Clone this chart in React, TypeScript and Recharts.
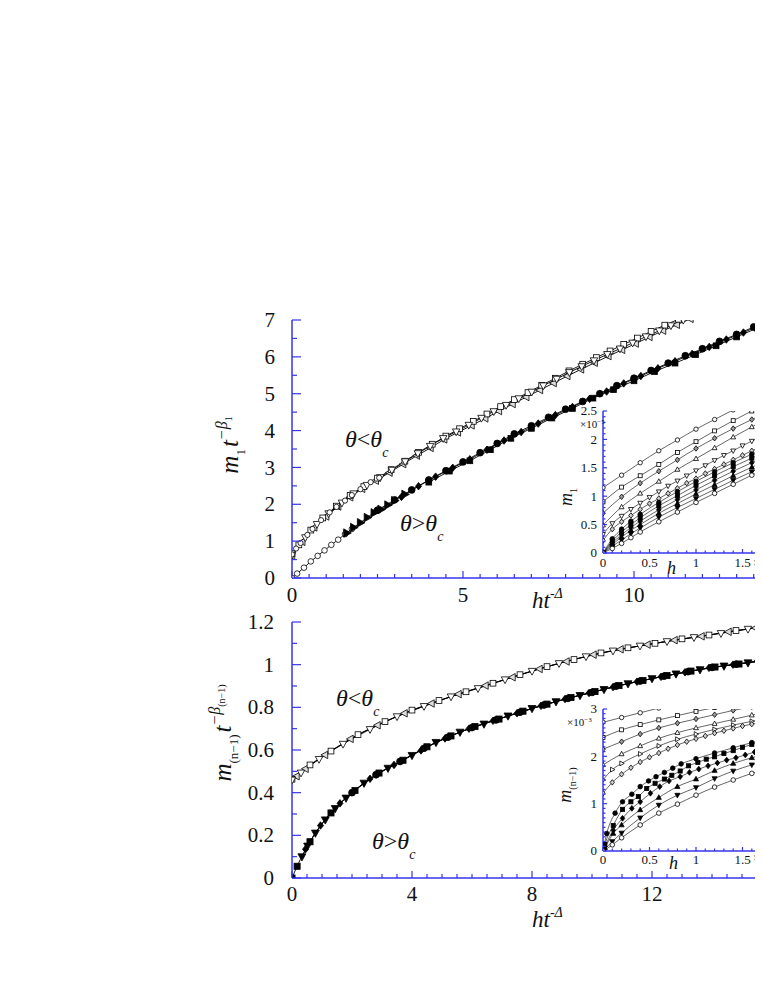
import React from 'react';
import { ComposedChart, Line, XAxis, YAxis } from 'recharts';

const BLUE = '#3535ee';
const SERIF = '"Liberation Serif", "DejaVu Serif", serif';

// ---- upper panel: m1 t^-beta1 against h t^-Delta ----
const topBelowTri = [[0,0.62],[0.39,1.1],[0.73,1.46],[1.07,1.75],[1.46,2.04],[1.8,2.29],[2.19,2.52],[2.58,2.73],[2.92,2.93],[3.31,3.16],[3.68,3.38],[4.04,3.58],[4.42,3.79],[4.8,3.97],[5.17,4.15],[5.54,4.34],[5.9,4.52],[6.26,4.69],[6.63,4.87],[7.01,5.05],[7.35,5.22],[7.74,5.4],[8.11,5.58],[8.47,5.74],[8.83,5.9],[9.22,6.07],[9.59,6.22],[9.96,6.38],[10.35,6.55],[10.74,6.71],[11.08,6.85],[11.44,7.0],[11.8,7.14]];
const topBelowSq = [[0,0.66],[0.2,0.9],[0.55,1.3],[0.9,1.63],[1.3,1.95],[1.7,2.24],[2.1,2.48],[2.5,2.71],[2.9,2.94],[3.3,3.17],[3.7,3.41],[4.1,3.63],[4.5,3.85],[4.9,4.05],[5.3,4.25],[5.7,4.45],[6.1,4.65],[6.5,4.84],[6.9,5.03],[7.3,5.23],[7.7,5.42],[8.1,5.62],[8.5,5.8],[8.9,5.98],[9.3,6.16],[9.7,6.34],[10.1,6.51],[10.5,6.69],[10.9,6.86],[11.3,7.02],[11.7,7.18]];
const topBelowLeft = [[0,0.6],[0.3,0.98],[0.65,1.37],[1.0,1.67],[1.35,1.94],[1.7,2.19],[2.05,2.42],[2.45,2.64],[2.85,2.86],[3.25,3.09],[3.65,3.32],[4.05,3.53],[4.45,3.76],[4.85,3.95],[5.25,4.14],[5.65,4.33],[6.05,4.53],[6.45,4.72],[6.85,4.91],[7.25,5.1],[7.65,5.29],[8.05,5.48],[8.45,5.66],[8.85,5.84],[9.25,6.02],[9.65,6.19],[10.05,6.36],[10.45,6.54],[10.85,6.71],[11.25,6.87],[11.65,7.03]];
const topBelowCirc = [[0,0.64],[0.12,0.8],[0.25,0.95],[0.45,1.17],[0.6,1.33],[0.85,1.57],[1.1,1.78],[1.3,1.93],[1.55,2.1],[1.75,2.25],[2.0,2.41],[2.3,2.6],[2.55,2.72]];

const topAboveOpen = [[0,0],[0.15,0.12],[0.35,0.28],[0.55,0.45],[0.75,0.6],[0.95,0.75],[1.15,0.9],[1.35,1.04],[1.55,1.19],[1.75,1.33]];
const topAboveTri = [[1.6,1.22],[1.8,1.37],[2.0,1.5],[2.2,1.64],[2.4,1.77],[2.6,1.86],[2.8,1.98],[3.0,2.1],[3.3,2.27]];
const topAboveCirc = [[2.5,1.84],[3.0,2.12],[3.5,2.39],[4.0,2.66],[4.5,2.91],[5.0,3.15],[5.5,3.4],[6.0,3.65],[6.5,3.91],[7.0,4.13],[7.5,4.36],[8.0,4.58],[8.5,4.79],[9.0,5.0],[9.5,5.22],[10.0,5.42],[10.5,5.63],[11.0,5.83],[11.5,6.03],[12.0,6.22],[12.5,6.42],[13.0,6.61],[13.5,6.81],[14.0,7.0]];
const topAboveDia = [[3.2,2.2],[3.7,2.49],[4.2,2.75],[4.7,2.99],[5.2,3.22],[5.7,3.48],[6.2,3.73],[6.7,3.96],[7.2,4.19],[7.7,4.42],[8.2,4.64],[8.7,4.86],[9.2,5.06],[9.7,5.28],[10.2,5.48],[10.7,5.69],[11.2,5.88],[11.7,6.08],[12.2,6.27],[12.7,6.47],[13.2,6.66],[13.7,6.86]];
const topAboveSq = [[4.0,2.6],[4.6,2.9],[5.2,3.18],[5.8,3.48],[6.4,3.79],[7.0,4.06],[7.6,4.34],[8.2,4.6],[8.8,4.88],[9.4,5.11],[10.0,5.35],[10.6,5.6],[11.2,5.83],[11.8,6.06],[12.4,6.3],[13.0,6.54],[13.6,6.78],[14.2,7.0]];

// ---- lower panel: m(n-1) t^-beta(n-1) against h t^-Delta ----
const botBelowTri = [[0,0.46],[0.3,0.493],[0.9,0.557],[1.7,0.628],[2.6,0.697],[3.5,0.757],[4.4,0.805],[5.3,0.85],[6.2,0.889],[7.1,0.93],[8.0,0.97],[8.9,1.006],[9.8,1.038],[10.7,1.065],[11.6,1.088],[12.5,1.109],[13.4,1.128],[14.3,1.147],[15.2,1.167],[16.1,1.187]];
const botBelowSq = [[0,0.463],[0.6,0.53],[1.3,0.595],[2.2,0.672],[3.1,0.733],[4.0,0.787],[4.9,0.832],[5.8,0.873],[6.7,0.913],[7.6,0.953],[8.5,0.991],[9.4,1.024],[10.3,1.055],[11.2,1.079],[12.1,1.1],[13.0,1.121],[13.9,1.139],[14.8,1.16],[15.7,1.178]];
const botBelowLeft = [[0.15,0.477],[0.45,0.512],[1.1,0.577],[1.95,0.652],[2.85,0.716],[3.75,0.772],[4.65,0.818],[5.55,0.862],[6.45,0.902],[7.35,0.941],[8.25,0.98],[9.15,1.015],[10.05,1.047],[10.95,1.072],[11.85,1.094],[12.75,1.115],[13.65,1.133],[14.55,1.154],[15.45,1.172]];

const botAboveSq = [[0,0],[0.17,0.055],[0.6,0.17],[1.3,0.305],[2.1,0.41],[2.9,0.492],[3.7,0.552],[4.5,0.615],[5.3,0.666],[6.1,0.71],[6.9,0.745],[7.7,0.782],[8.5,0.815],[9.3,0.846],[10.1,0.874],[10.9,0.902],[11.7,0.926],[12.5,0.949],[13.3,0.97],[14.1,0.989],[14.9,1.003],[15.7,1.019]];
const botAboveTri = [[0.33,0.1],[0.52,0.15],[0.78,0.211],[1.11,0.273],[1.44,0.326],[1.8,0.375],[2.4,0.445],[3.2,0.515],[4.0,0.575],[4.8,0.636],[5.6,0.684],[6.4,0.722],[7.2,0.76],[8.0,0.795],[8.8,0.827],[9.6,0.856],[10.4,0.884],[11.2,0.911],[12.0,0.935],[12.8,0.957],[13.6,0.977],[14.4,0.994],[15.2,1.009],[16.0,1.025]];
const botAboveDia = [[0.45,0.135],[0.95,0.246],[1.6,0.35],[2.6,0.465],[3.4,0.53],[4.3,0.598],[5.1,0.654],[5.9,0.7],[6.7,0.737],[7.5,0.772],[8.3,0.807],[9.1,0.839],[9.9,0.867],[10.7,0.895],[11.5,0.92],[12.3,0.943],[13.1,0.964],[13.9,0.985],[14.7,1.0],[15.5,1.016]];
const botAboveCirc = [[2.0,0.4],[2.8,0.484],[3.6,0.546],[4.4,0.608],[5.2,0.66],[6.0,0.705],[6.8,0.741],[7.6,0.777],[8.4,0.811],[9.2,0.842],[10.0,0.87],[10.8,0.899],[11.6,0.923],[12.4,0.946],[13.2,0.967],[14.0,0.987],[14.8,1.002],[15.6,1.018]];

// ---- inset of upper panel: m1 (x1e-5) against h ----
const in1Open = [
  [[0,1.15],[0.2,1.37],[0.4,1.59],[0.6,1.8],[0.8,1.99],[1.0,2.18],[1.2,2.35],[1.4,2.52]],
  [[0,0.9],[0.2,1.16],[0.4,1.36],[0.6,1.56],[0.8,1.77],[1.0,1.96],[1.2,2.15],[1.4,2.33],[1.6,2.5]],
  [[0,0.7],[0.2,0.99],[0.4,1.23],[0.6,1.44],[0.8,1.64],[1.0,1.84],[1.2,2.02],[1.4,2.19],[1.6,2.35],[1.8,2.5]],
  [[0,0.49],[0.2,0.81],[0.4,1.05],[0.6,1.26],[0.8,1.47],[1.0,1.66],[1.2,1.85],[1.4,2.04],[1.6,2.22],[1.8,2.4]],
  [[0,0.33],[0.1,0.52],[0.2,0.65],[0.3,0.77],[0.4,0.88],[0.5,0.98],[0.6,1.08],[0.7,1.18],[0.8,1.27],[0.9,1.36],[1.0,1.45],[1.1,1.54],[1.2,1.63],[1.3,1.72],[1.4,1.8],[1.5,1.89],[1.6,1.97],[1.7,2.05],[1.8,2.13]],
  [[0,0.22],[0.1,0.42],[0.2,0.55],[0.3,0.66],[0.4,0.77],[0.5,0.87],[0.6,0.96],[0.7,1.05],[0.8,1.14],[0.9,1.23],[1.0,1.31],[1.1,1.4],[1.2,1.48],[1.3,1.56],[1.4,1.64],[1.5,1.72],[1.6,1.8],[1.7,1.87],[1.8,1.95]],
];
const in1H = [0,0.1,0.2,0.3,0.4,0.6,0.8,1.0,1.2,1.4,1.6,1.8];
const in1Filled = [
  [0,0.25,0.42,0.56,0.68,0.89,1.08,1.26,1.43,1.59,1.74,1.89],
  [0,0.21,0.37,0.5,0.62,0.83,1.01,1.19,1.36,1.52,1.67,1.82],
  [0,0.18,0.32,0.45,0.56,0.76,0.94,1.11,1.28,1.44,1.59,1.74],
  [0,0.15,0.28,0.4,0.5,0.7,0.87,1.04,1.2,1.36,1.51,1.66],
  [0,0.12,0.23,0.34,0.44,0.63,0.8,0.96,1.12,1.28,1.43,1.58],
  [0,0.08,0.17,0.27,0.37,0.55,0.72,0.89,1.05,1.21,1.37,1.52],
];

// ---- inset of lower panel: m(n-1) (x1e-3) against h ----
const in2Open = [
  [[0,2.72],[0.2,2.82],[0.4,2.92],[0.6,3.02]],
  [[0,2.4],[0.2,2.56],[0.4,2.67],[0.6,2.77],[0.8,2.86],[1.0,2.95],[1.2,3.03]],
  [[0,2.15],[0.2,2.31],[0.4,2.47],[0.6,2.6],[0.8,2.7],[1.0,2.79],[1.2,2.88],[1.4,2.97],[1.6,3.05]],
  [[0,1.82],[0.2,2.05],[0.4,2.22],[0.6,2.38],[0.8,2.5],[1.0,2.6],[1.2,2.69],[1.4,2.78],[1.6,2.87],[1.8,2.95]],
  [[0,1.5],[0.1,1.72],[0.2,1.85],[0.4,2.05],[0.6,2.22],[0.8,2.36],[1.0,2.47],[1.2,2.57],[1.4,2.66],[1.6,2.74],[1.8,2.82]],
  [[0,1.22],[0.1,1.45],[0.2,1.62],[0.3,1.76],[0.4,1.88],[0.5,1.98],[0.6,2.07],[0.7,2.16],[0.8,2.24],[0.9,2.31],[1.0,2.37],[1.1,2.43],[1.2,2.49],[1.3,2.54],[1.4,2.59],[1.5,2.64],[1.6,2.68],[1.7,2.72],[1.8,2.76]],
];
const in2Filled = [
  [[0,0],[0.04,0.37],[0.13,0.8],[0.21,1.04],[0.31,1.2],[0.4,1.36],[0.49,1.48],[0.57,1.57],[0.66,1.66],[0.75,1.75],[0.84,1.84],[1.0,1.95],[1.2,2.07],[1.4,2.18],[1.6,2.29],[1.8,2.39]],
  [[0,0],[0.02,0.14],[0.11,0.54],[0.21,0.88],[0.3,1.04],[0.38,1.15],[0.47,1.32],[0.56,1.43],[0.66,1.52],[0.74,1.6],[0.83,1.69],[0.92,1.8],[1.02,1.87],[1.11,1.94],[1.2,1.99],[1.3,2.06],[1.4,2.12],[1.5,2.19],[1.6,2.25],[1.7,2.3]],
  [[0,0],[0.02,0.09],[0.11,0.44],[0.21,0.69],[0.31,0.9],[0.4,1.04],[0.51,1.22],[0.61,1.36],[0.71,1.48],[0.83,1.57],[0.93,1.66],[1.03,1.73],[1.13,1.8],[1.23,1.86],[1.33,1.92],[1.43,1.97],[1.53,2.03],[1.63,2.09],[1.73,2.14]],
  [[0,0],[0.02,0.07],[0.11,0.37],[0.2,0.55],[0.4,0.87],[0.6,1.13],[0.8,1.36],[1.0,1.52],[1.2,1.7],[1.4,1.85],[1.6,1.97],[1.8,2.08]],
  [[0,0],[0.1,0.2],[0.2,0.38],[0.4,0.7],[0.6,0.97],[0.8,1.18],[1.0,1.34],[1.2,1.53],[1.4,1.69],[1.6,1.82],[1.8,1.93]],
  [[0,0],[0.1,0.13],[0.2,0.28],[0.4,0.55],[0.6,0.8],[0.8,0.99],[1.0,1.18],[1.2,1.35],[1.4,1.5],[1.6,1.64],[1.8,1.76]],
];

// tick labels (the ones that fall inside the visible window)
const topXMajor = [0, 5, 10];
const topXLong = [0, 5, 10, 15];
const topYMajor = [0, 1, 2, 3, 4, 5, 6, 7];
const botXMajor = [0, 4, 8, 12];
const botXLong = [0, 4, 8, 12, 16];
const botYMajor = [0, 0.2, 0.4, 0.6, 0.8, 1, 1.2];
const in1YMajor = [0, 0.5, 1, 1.5, 2, 2.5];
const in2YMajor = [0, 1, 2, 3];
const inXMajor = [0, 0.5, 1, 1.5];
const inXLong = [0, 0.5, 1, 1.5, 2];

const steps = (a: number, b: number, s: number) => {
  const out: number[] = [];
  for (let i = 0; a + i * s <= b + 1e-9; i++) out.push(+(a + i * s).toFixed(3));
  return out;
};
const isIn = (v: number, arr: number[]) => arr.some((a) => Math.abs(a - v) < 1e-6);
const fmt = (v: number) => String(+v.toFixed(2));

type Shape = 'circle' | 'square' | 'diamond' | 'tu' | 'td' | 'tl' | 'tr';
type Series = { data: number[][]; shape: Shape; fill: string; r: number };

function Marker({ cx, cy, shape, fill, r }: { cx: number; cy: number; shape: Shape; fill: string; r: number }) {
  if (cx == null || cy == null || isNaN(cx) || isNaN(cy)) return null;
  const common = { fill, stroke: '#000', strokeWidth: 0.8 };
  const s = r;
  switch (shape) {
    case 'circle':
      return <circle cx={cx} cy={cy} r={s} {...common} />;
    case 'square':
      return <rect x={cx - s * 0.9} y={cy - s * 0.9} width={s * 1.8} height={s * 1.8} {...common} />;
    case 'diamond':
      return <polygon points={`${cx},${cy - s * 1.25} ${cx + s},${cy} ${cx},${cy + s * 1.25} ${cx - s},${cy}`} {...common} />;
    case 'tu':
      return <polygon points={`${cx},${cy - s * 1.2} ${cx + s * 1.1},${cy + s * 0.8} ${cx - s * 1.1},${cy + s * 0.8}`} {...common} />;
    case 'td':
      return <polygon points={`${cx},${cy + s * 1.2} ${cx + s * 1.1},${cy - s * 0.8} ${cx - s * 1.1},${cy - s * 0.8}`} {...common} />;
    case 'tl':
      return <polygon points={`${cx - s * 1.2},${cy} ${cx + s * 0.8},${cy - s * 1.1} ${cx + s * 0.8},${cy + s * 1.1}`} {...common} />;
    default:
      return <polygon points={`${cx + s * 1.2},${cy} ${cx - s * 0.8},${cy - s * 1.1} ${cx - s * 0.8},${cy + s * 1.1}`} {...common} />;
  }
}

type TickOpts = { majors: number[]; long: number[]; majLen: number; minLen: number; fs: number; off: number; label: boolean };

const bottomTick = (o: TickOpts) => (p: any) => {
  const v = p.payload.value;
  const lng = isIn(v, o.long);
  return (
    <g key={`b-${v}`}>
      <line x1={p.x} x2={p.x} y1={p.y} y2={p.y - (lng ? o.majLen : o.minLen)} stroke={BLUE} strokeWidth={1.2} />
      {o.label && isIn(v, o.majors) && (
        <text x={p.x} y={p.y + o.off} textAnchor="middle" fontSize={o.fs} fontFamily={SERIF} fill="#111">{fmt(v)}</text>
      )}
    </g>
  );
};
const topTick = (o: TickOpts) => (p: any) => {
  const v = p.payload.value;
  const lng = isIn(v, o.long);
  return (
    <g key={`t-${v}`}>
      <line x1={p.x} x2={p.x} y1={p.y} y2={p.y + (lng ? o.majLen : o.minLen)} stroke={BLUE} strokeWidth={1.2} />
    </g>
  );
};
const leftTick = (o: TickOpts) => (p: any) => {
  const v = p.payload.value;
  const lng = isIn(v, o.long);
  return (
    <g key={`l-${v}`}>
      <line x1={p.x} x2={p.x + (lng ? o.majLen : o.minLen)} y1={p.y} y2={p.y} stroke={BLUE} strokeWidth={1.2} />
      {o.label && isIn(v, o.majors) && (
        <text x={p.x - o.off} y={p.y + o.fs * 0.34} textAnchor="end" fontSize={o.fs} fontFamily={SERIF} fill="#111">{fmt(v)}</text>
      )}
    </g>
  );
};

type PanelProps = {
  left: number; top: number; width: number; height: number; mTop: number;
  yWidth: number; xHeight: number;
  xDomain: [number, number]; yDomain: [number, number];
  xTicks: number[]; yTicks: number[];
  xTop: TickOpts; xBot: TickOpts; yLeft: TickOpts;
  lineW: number; series: Series[];
};

function Panel(p: PanelProps) {
  return (
    <div style={{ position: 'absolute', left: p.left - 8, top: p.top - 8 }}>
      <ComposedChart width={p.width} height={p.height} margin={{ top: p.mTop, right: 0, bottom: 0, left: 0 }}>
        <XAxis xAxisId="b" dataKey="x" type="number" domain={p.xDomain} ticks={p.xTicks} interval={0}
          allowDataOverflow height={p.xHeight} tickLine={false} tickSize={0} tickMargin={0}
          axisLine={{ stroke: BLUE, strokeWidth: 1.5 }} tick={bottomTick(p.xBot)} />
        <XAxis xAxisId="t" orientation="top" type="number" domain={p.xDomain} ticks={p.xTicks} interval={0}
          allowDataOverflow height={0} tickLine={false} tickSize={0} tickMargin={0}
          axisLine={{ stroke: BLUE, strokeWidth: 1.5 }} tick={topTick(p.xTop)} />
        <YAxis yAxisId="l" type="number" domain={p.yDomain} ticks={p.yTicks} interval={0}
          allowDataOverflow width={p.yWidth} tickLine={false} tickSize={0} tickMargin={0}
          axisLine={{ stroke: BLUE, strokeWidth: 1.5 }} tick={leftTick(p.yLeft)} />
        {p.series.map((s, i) => (
          <Line key={i} xAxisId="b" yAxisId="l" data={s.data.map(([x, y]) => ({ x, y }))} dataKey="y"
            type="monotone" stroke="#000" strokeWidth={p.lineW} isAnimationActive={false} activeDot={false}
            dot={(d: any) => <Marker key={`m-${i}-${d.index}`} cx={d.cx} cy={d.cy} shape={s.shape} fill={s.fill} r={s.r} />} />
        ))}
      </ComposedChart>
    </div>
  );
}

const W = '#fff';
const K = '#000';

const topSeries: Series[] = [
  { data: topBelowLeft, shape: 'tl', fill: '#ddd', r: 3.4 },
  { data: topBelowSq, shape: 'square', fill: W, r: 3.2 },
  { data: topBelowTri, shape: 'td', fill: W, r: 3.4 },
  { data: topBelowCirc, shape: 'circle', fill: W, r: 2.6 },
  { data: topAboveOpen, shape: 'circle', fill: W, r: 2.8 },
  { data: topAboveTri, shape: 'tr', fill: K, r: 3.8 },
  { data: topAboveSq, shape: 'square', fill: K, r: 3.2 },
  { data: topAboveDia, shape: 'diamond', fill: K, r: 3.0 },
  { data: topAboveCirc, shape: 'circle', fill: K, r: 3.4 },
];
const botSeries: Series[] = [
  { data: botBelowLeft, shape: 'tl', fill: '#ddd', r: 3.4 },
  { data: botBelowSq, shape: 'square', fill: W, r: 3.2 },
  { data: botBelowTri, shape: 'td', fill: W, r: 3.4 },
  { data: botAboveSq, shape: 'square', fill: K, r: 3.4 },
  { data: botAboveTri, shape: 'td', fill: K, r: 3.6 },
  { data: botAboveDia, shape: 'diamond', fill: K, r: 3.0 },
  { data: botAboveCirc, shape: 'circle', fill: K, r: 3.4 },
];
const openShapes: Shape[] = ['circle', 'square', 'diamond', 'tu', 'td', 'diamond'];
const openFills = [W, W, '#999', W, W, '#ccc'];
const filledShapes: Shape[] = ['circle', 'square', 'diamond', 'tu', 'td', 'circle'];
const filledFills = [K, K, K, K, K, W];

const in1Series: Series[] = [
  ...in1Open.map((d, i) => ({ data: d, shape: openShapes[i], fill: openFills[i], r: 2.2 })),
  ...in1Filled.map((ys, i) => ({ data: ys.map((y, j) => [in1H[j], y]), shape: filledShapes[i], fill: filledFills[i], r: 2.3 })),
];
const in2Series: Series[] = [
  ...in2Open.map((d, i) => ({ data: d, shape: (i === 4 ? 'tr' : openShapes[i]) as Shape, fill: openFills[i], r: 2.2 })),
  ...in2Filled.map((d, i) => ({ data: d, shape: filledShapes[i], fill: filledFills[i], r: 2.3 })),
];

const mainTick = (majors: number[], long: number[], label = true): TickOpts =>
  ({ majors, long, majLen: 9, minLen: 5, fs: 21, off: 17, label });
const insetTick = (majors: number[], long: number[], label = true): TickOpts =>
  ({ majors, long, majLen: 4, minLen: 2.5, fs: 13, off: 6, label });

const it = { fontFamily: SERIF, fontStyle: 'italic' as const, fill: '#111' };

function Overlay() {
  return (
    <svg width={755} height={979} style={{ position: 'absolute', left: 0, top: 0, pointerEvents: 'none' }}>
      <g transform="translate(-8,-8)">
        {/* upper panel axis titles */}
        <text transform="translate(238,445) rotate(-90)" textAnchor="middle" {...it} fontSize={25}>
          m<tspan fontSize={13} fontStyle="normal" dy={7}>1</tspan>
          <tspan dy={-7} dx={2}>t</tspan>
          <tspan fontSize={16} dy={-11}>−β</tspan>
          <tspan fontSize={10} fontStyle="normal" dy={5}>1</tspan>
        </text>
        <text x={532} y={608} {...it} fontSize={23}>
          ht<tspan fontSize={14} dy={-10}>-Δ</tspan>
        </text>
        <text x={345} y={447} {...it} fontSize={24}>
          θ<tspan fontStyle="normal">{'<'}</tspan>θ<tspan fontSize={14} dy={10}>c</tspan>
        </text>
        <text x={400} y={531} {...it} fontSize={24}>
          θ<tspan fontStyle="normal">{'>'}</tspan>θ<tspan fontSize={14} dy={10}>c</tspan>
        </text>

        {/* lower panel axis titles */}
        <text transform="translate(231,733) rotate(-90)" textAnchor="middle" {...it} fontSize={25}>
          m<tspan fontSize={13} fontStyle="normal" dy={7}>(n−1)</tspan>
          <tspan dy={-7} dx={2}>t</tspan>
          <tspan fontSize={16} dy={-11}>−β</tspan>
          <tspan fontSize={10} fontStyle="normal" dy={5}>(n−1)</tspan>
        </text>
        <text x={532} y={927} {...it} fontSize={23}>
          ht<tspan fontSize={14} dy={-10}>-Δ</tspan>
        </text>
        <text x={336} y={706} {...it} fontSize={24}>
          θ<tspan fontStyle="normal">{'<'}</tspan>θ<tspan fontSize={14} dy={10}>c</tspan>
        </text>
        <text x={372} y={849} {...it} fontSize={24}>
          θ<tspan fontStyle="normal">{'>'}</tspan>θ<tspan fontSize={14} dy={10}>c</tspan>
        </text>

        {/* inset titles */}
        <text transform="translate(572,497) rotate(-90)" textAnchor="middle" {...it} fontSize={18}>
          m<tspan fontSize={10} fontStyle="normal" dy={5}>1</tspan>
        </text>
        <text x={667} y={574} {...it} fontSize={18}>h</text>
        <text x={580} y={428} fontFamily={SERIF} fontSize={11} fill="#111">
          ×10<tspan fontSize={7} dy={-4}>−5</tspan>
        </text>
        <text x={753} y={567} fontFamily={SERIF} fontSize={13} fill="#111">×</text>

        <text transform="translate(571,785) rotate(-90)" textAnchor="middle" {...it} fontSize={18}>
          m<tspan fontSize={10} fontStyle="normal" dy={5}>(n−1)</tspan>
        </text>
        <text x={669} y={869} {...it} fontSize={18}>h</text>
        <text x={567} y={726} fontFamily={SERIF} fontSize={11} fill="#111">
          ×10<tspan fontSize={7} dy={-4}>−3</tspan>
        </text>
        <text x={753} y={862} fontFamily={SERIF} fontSize={13} fill="#111">×</text>
      </g>
    </svg>
  );
}

export default function App() {
  return (
    <div style={{ position: 'relative', width: 755, height: 979, overflow: 'hidden', background: '#fff' }}>
      <Panel left={200} top={300} width={605} height={308} mTop={20} yWidth={92} xHeight={30}
        xDomain={[0, 15]} yDomain={[0, 7]} xTicks={steps(0, 15, 0.5)} yTicks={steps(0, 7, 0.5)}
        xTop={{ ...mainTick(topXMajor, topXLong, false), majLen: 7, minLen: 4 }}
        xBot={{ ...mainTick(topXMajor, topXLong), majLen: 7, minLen: 4, off: 24 }}
        yLeft={mainTick(topYMajor, topYMajor)} lineW={0.9} series={topSeries} />
      <Panel left={200} top={600} width={572} height={318} mTop={22} yWidth={92} xHeight={40}
        xDomain={[0, 16]} yDomain={[0, 1.2]} xTicks={steps(0, 16, 0.5)} yTicks={steps(0, 1.2, 0.1)}
        xTop={{ ...mainTick(botXMajor, botXLong, false), majLen: 7, minLen: 4 }}
        xBot={{ ...mainTick(botXMajor, botXLong), majLen: 7, minLen: 4, off: 23 }}
        yLeft={{ ...mainTick(botYMajor, botYMajor), off: 18 }} lineW={0.9} series={botSeries} />
      <Panel left={563} top={401} width={226} height={172} mTop={10} yWidth={40} xHeight={20}
        xDomain={[0, 2]} yDomain={[0, 2.5]} xTicks={steps(0, 2, 0.1)} yTicks={steps(0, 2.5, 0.1)}
        xTop={insetTick(inXMajor, inXLong, false)} xBot={{ ...insetTick(inXMajor, inXLong), off: 14 }}
        yLeft={insetTick(in1YMajor, in1YMajor)} lineW={0.6} series={in1Series} />
      <Panel left={563} top={699} width={226} height={172} mTop={10} yWidth={40} xHeight={20}
        xDomain={[0, 2]} yDomain={[0, 3]} xTicks={steps(0, 2, 0.1)} yTicks={steps(0, 3, 0.1)}
        xTop={insetTick(inXMajor, inXLong, false)} xBot={{ ...insetTick(inXMajor, inXLong), off: 13 }}
        yLeft={insetTick(in2YMajor, in2YMajor)} lineW={0.6} series={in2Series} />
      <Overlay />
    </div>
  );
}
